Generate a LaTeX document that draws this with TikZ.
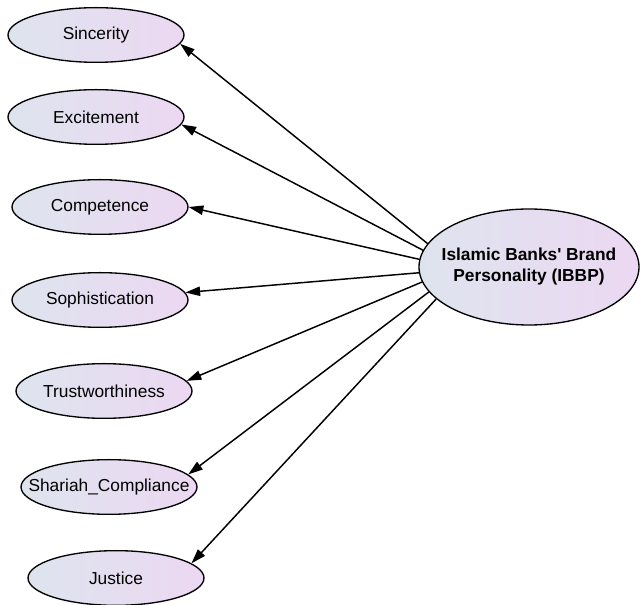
\documentclass[tikz,border=0pt]{standalone}
\usepackage{fontspec}
\setmainfont{Liberation Sans}[Ligatures=TeXOff]
\usetikzlibrary{arrows.meta,shapes.geometric}
\definecolor{factorleft}{RGB}{222,228,238}
\definecolor{factorright}{RGB}{236,216,242}
\begin{document}
\begin{tikzpicture}[>=Stealth,line cap=round,line join=round,
 x={(0.75pt,0pt)},y={(0pt,-0.75pt)},
 latent/.style={ellipse,draw=black,line width=1pt,
  left color=factorleft,right color=factorright,
  inner sep=0pt,font=\fontsize{13}{15.5}\selectfont},
 dimension/.style={latent,minimum width=132pt,minimum height=41pt},
 loading/.style={line width=1.1pt,-{Triangle[length=11pt,width=7pt]}}]
 \useasboundingbox (0,0) rectangle (640,605);
 % Second-order factor on the right.
 \node[latent,minimum width=165pt,minimum height=87pt,
       font=\fontsize{13}{15.5}\selectfont\bfseries]
  (ibbp) at (529,267)
  {\makebox[0pt]{\begin{tabular}{@{}c@{}}Islamic Banks' Brand\\
   Personality (IBBP)\end{tabular}}};
 % Seven first-order dimensions, with their loadings.
 \foreach \nm/\txt/\px/\py/\from/\to in {
  sinc/Sincerity/96/35/167/354,
  exci/Excitement/96/117/171/355,
  comp/Competence/100/207/176/0,
  soph/Sophistication/100/300/183/5,
  trus/Trustworthiness/104/391/188/7,
  shar/Shariah\_Compliance/109/487/194/9,
  just/Justice/116/578/199/11} {
  \node[dimension] (\nm) at (\px,\py) {\makebox[0pt]{\txt}};
  \draw[loading] (ibbp.\from) -- (\nm.\to);
 }
\end{tikzpicture}
\end{document}
